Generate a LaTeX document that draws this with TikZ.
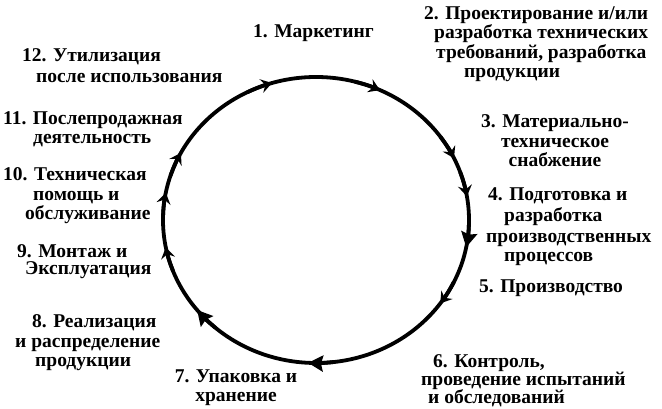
\documentclass[tikz,border=0pt]{standalone}
\usepackage{fontspec}
\setmainfont{Liberation Serif}
\usetikzlibrary{arrows.meta}
\begin{document}
\begin{tikzpicture}[x=1pt,y=1pt,
  ring/.style={line width=3.8pt},
  tipsmall/.style={line width=3.8pt,-{Stealth[length=11pt,width=14pt,inset=4pt]}},
  tipbig/.style={line width=3.8pt,-{Stealth[length=15pt,width=16pt,inset=2pt]}},
  lbl/.style={font=\bfseries\fontsize{19.5}{19.5}\selectfont, inner sep=0pt, align=left, anchor=base west},
  lblc/.style={lbl, align=center, anchor=base}]
\useasboundingbox (0,0) rectangle (662,409);
\coordinate (C) at (316,189);
\draw[ring] (C) ellipse[x radius=153pt, y radius=143pt];
\foreach \a/\s in {108.7/tipsmall, 67.3/tipsmall, 27.6/tipsmall, 11.5/tipsmall, -9/tipbig,
                   -33.7/tipsmall, -91/tipbig, 221/tipbig, 193/tipsmall, 171/tipsmall, 154/tipsmall}{
  \pgfmathsetmacro{\sa}{\a+8}
  \pgfmathsetmacro{\ea}{\a-2}
  \draw[\s] ([shift={(\sa:153pt and 143pt)}]C) arc[start angle=\sa, end angle=\ea, x radius=153pt, y radius=143pt];
}
% anchor base = baseline of the last line
\node[lbl] (n1) at (253,371) {1. Маркетинг};
\node[lbl] (n2) at (424,331) {2. Проектирование и/или\\\hspace*{10pt}разработка технических\\\hspace*{12pt}требований, разработка\\\hspace*{40pt}продукции};
\node[lblc] (n3) at (555,242) {3. Материально-\\техническое\\снабжение};
\node[lbl] (n4) at (486,147) {\hspace*{2pt}4. Подготовка и\\[1.5pt]\hspace*{18pt}разработка\\[1.5pt]производственных\\\hspace*{18pt}процессов};
\node[lbl] (n5) at (479,116) {5. Производство};
\node[lbl] (n6) at (421,5) {\hspace*{12pt}6. Контроль,\\[-1.5pt]проведение испытаний\\[-1.5pt]\hspace*{7pt}и обследований};
\node[lblc] (n7) at (236,7) {7. Упаковка и\\хранение};
\node[lbl,align=left] (n8) at (15,42) {\hspace*{17pt}8. Реализация\\и распределение\\\hspace*{20pt}продукции};
\node[lbl] (n9) at (17,134) {9. Монтаж и\\[-2pt]\hspace*{8pt}Эксплуатация};
\node[lbl] (n10) at (3,189) {10. Техническая\\\hspace*{30pt}помощь и\\\hspace*{22pt}обслуживание};
\node[lbl] (n11) at (3,265) {11. Послепродажная\\\hspace*{30pt}деятельность};
\node[lbl] (n12) at (22,326) {12. Утилизация\\[2pt]\hspace*{14pt}после использования};
\end{tikzpicture}
\end{document}
